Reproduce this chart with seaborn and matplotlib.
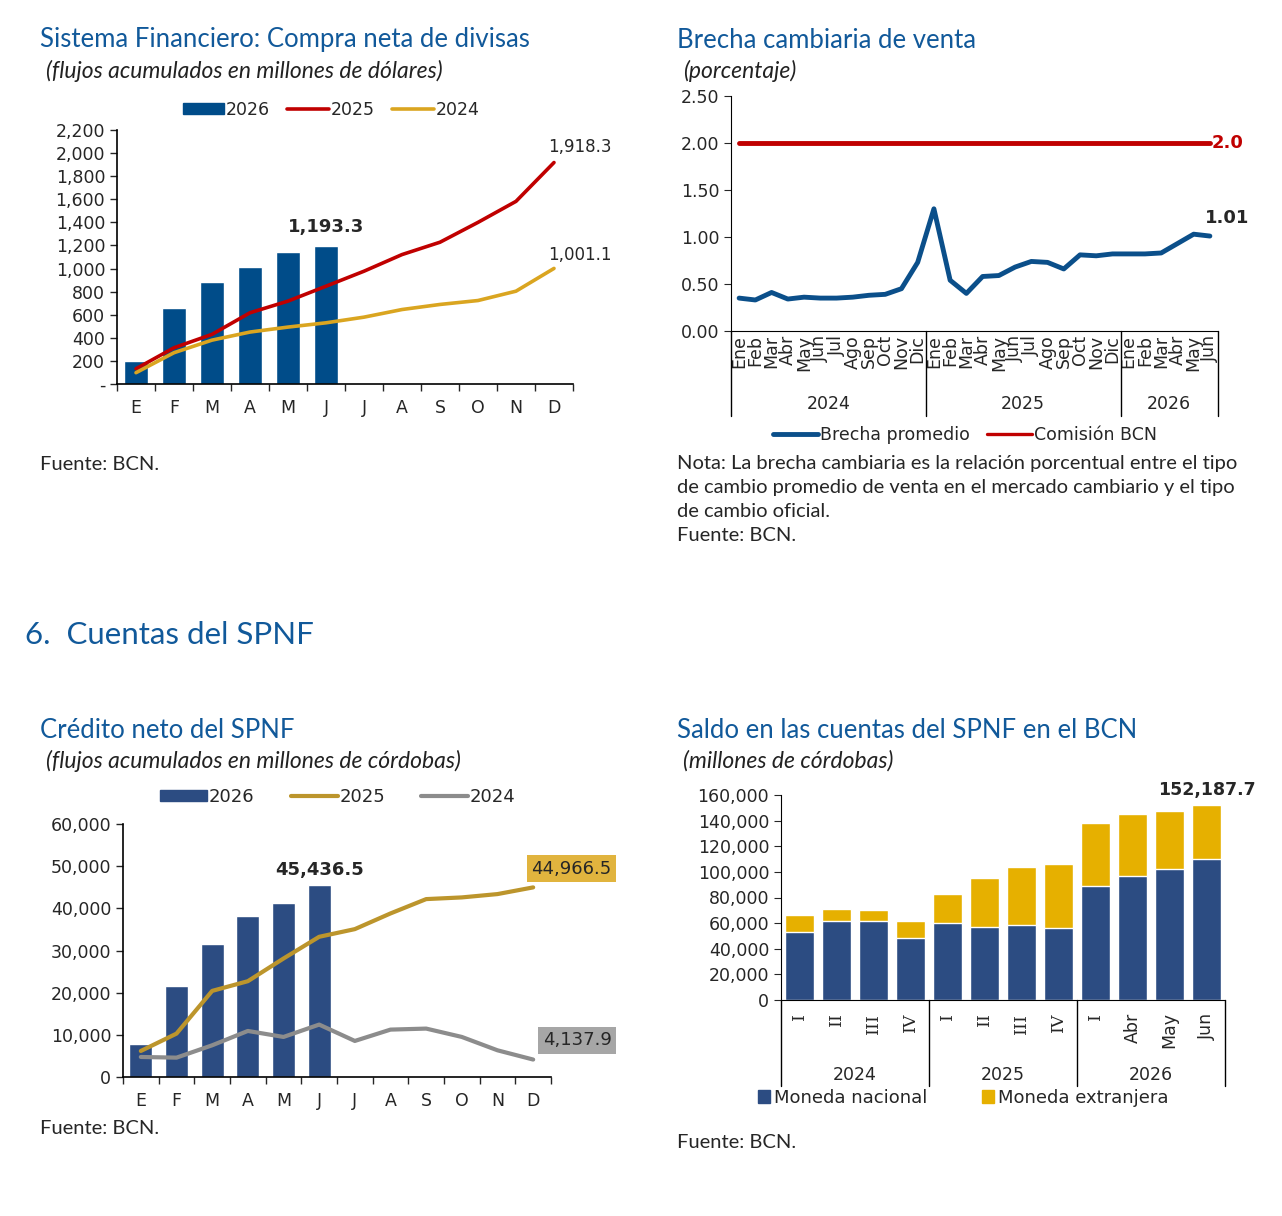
import numpy as np
import seaborn as sns
import matplotlib.pyplot as plt
from matplotlib.lines import Line2D
from matplotlib.patches import Patch

# ---- data ----
meses = ["E", "F", "M", "A", "M", "J", "J", "A", "S", "O", "N", "D"]

# Sistema financiero: compra neta de divisas (millones US$)
divisas_2026 = [196, 660, 882, 1017, 1144, 1193.3]
divisas_2025 = [132, 314, 430, 617, 718, 847, 977, 1121, 1228, 1400, 1582, 1918.3]
divisas_2024 = [98, 271, 380, 450, 493, 530, 579, 645, 689, 723, 804, 1001.1]

# Brecha cambiaria de venta (porcentaje), Ene-2024 a Jun-2026
meses_brecha = ["Ene", "Feb", "Mar", "Abr", "May", "Jun", "Jul", "Ago", "Sep", "Oct", "Nov", "Dic"] * 2 + \
               ["Ene", "Feb", "Mar", "Abr", "May", "Jun"]
brecha = [0.35, 0.33, 0.41, 0.34, 0.36, 0.35, 0.35, 0.36, 0.38, 0.39, 0.45, 0.73,
          1.30, 0.54, 0.40, 0.58, 0.59, 0.68, 0.74, 0.73, 0.66, 0.81, 0.80, 0.82,
          0.82, 0.82, 0.83, 0.93, 1.03, 1.01]
comision = [2.0] * 30

# Credito neto del SPNF (millones C$)
credito_2026 = [7757, 21610, 31425, 38150, 41160, 45436.5]
credito_2025 = [6174, 10290, 20420, 22720, 28100, 33250, 35070, 38790, 42190, 42590, 43380, 44966.5]
credito_2024 = [4750, 4590, 7520, 10920, 9500, 12430, 8550, 11240, 11480, 9500, 6330, 4137.9]

# Saldo en las cuentas del SPNF en el BCN (millones C$)
saldo_labels = ["I", "II", "III", "IV", "I", "II", "III", "IV", "I", "Abr", "May", "Jun"]
moneda_nacional = [53250, 61820, 61820, 48310, 59740, 56880, 58700, 56360, 89090, 96880, 102600, 110130]
moneda_extranjera = [12720, 9080, 8050, 13250, 22860, 38440, 45200, 50130, 49090, 48060, 45190, 42057.7]

# ---- style ----
sns.set_style("ticks")
plt.rcParams["font.family"] = ["DejaVu Sans"]
TITLE_FONT = ["Lato", "DejaVu Sans"]
TITLE_COLOR = "#11599A"
TICK_FS = 12.5

W, H = 1282, 1216
fig = plt.figure(figsize=(W / 100, H / 100), dpi=100)


def box(x0, y0, x1, y1):
    return [x0 / W, 1 - y1 / H, (x1 - x0) / W, (y1 - y0) / H]


def fx(x):
    return x / W


def fy(y):
    return 1 - y / H


def heading(x, y, title, sub):
    fig.text(fx(x), fy(y), title, family=TITLE_FONT, fontsize=18.5, color=TITLE_COLOR, va="center")
    if sub:
        fig.text(fx(x + 6), fy(y + 31), sub, family=TITLE_FONT, fontsize=16.5, style="italic",
                 color="#222222", va="center")


def excel_xaxis(ax, n):
    ax.set_xlim(-0.5, n - 0.5)
    ax.set_xticks(range(n))
    ax.set_xticks(np.arange(-0.5, n, 1), minor=True)
    ax.tick_params(axis="x", which="major", length=0, pad=11, labelsize=TICK_FS)
    ax.tick_params(axis="x", which="minor", length=5, width=1, direction="out")
    ax.tick_params(axis="y", length=5, width=1, labelsize=TICK_FS)
    sns.despine(ax=ax)
    for s in ["left", "bottom"]:
        ax.spines[s].set_linewidth(1.2)
        ax.spines[s].set_color("black")


# ---- Panel 1: compra neta de divisas ----
heading(40, 40, "Sistema Financiero: Compra neta de divisas", "(flujos acumulados en millones de dólares)")
ax1 = fig.add_axes(box(117, 130, 573, 384))
x12 = np.arange(12)
sns.barplot(x=np.arange(6), y=divisas_2026, color="#004C89", width=0.65, native_scale=True,
            ax=ax1, saturation=1)
sns.lineplot(x=x12, y=divisas_2025, color="#C00000", linewidth=2.6, ax=ax1)
sns.lineplot(x=x12, y=divisas_2024, color="#DAA520", linewidth=2.6, ax=ax1)
excel_xaxis(ax1, 12)
ax1.set_xticklabels(meses)
ax1.set_ylim(0, 2200)
ax1.set_yticks(range(0, 2201, 200))
ax1.set_yticklabels(["-"] + [f"{v:,}" for v in range(200, 2201, 200)])
ax1.set_xlabel("")
ax1.set_ylabel("")
ax1.text(5, divisas_2026[-1] + 90, f"{divisas_2026[-1]:,.1f}", ha="center", va="bottom",
         fontsize=13, fontweight="bold")
ax1.text(10.85, divisas_2025[-1] + 55, f"{divisas_2025[-1]:,.1f}", ha="left", va="bottom",
         fontsize=12, clip_on=False)
ax1.text(10.85, divisas_2024[-1] + 35, f"{divisas_2024[-1]:,.1f}", ha="left", va="bottom",
         fontsize=12, clip_on=False)
fig.legend(handles=[Patch(color="#004C89"), Line2D([], [], color="#C00000", lw=2.6),
                    Line2D([], [], color="#DAA520", lw=2.6)],
           labels=["2026", "2025", "2024"], loc="center", bbox_to_anchor=(fx(331), fy(110)),
           ncol=3, frameon=False, fontsize=12.5, handlelength=2.4, handleheight=0.6,
           handletextpad=0.1, columnspacing=1.0)
fig.text(fx(40), fy(465), "Fuente: BCN.", family=TITLE_FONT, fontsize=14.5, va="center")

# ---- Panel 2: brecha cambiaria ----
heading(677, 40, "Brecha cambiaria de venta", "(porcentaje)")
ax2 = fig.add_axes(box(731, 96, 1218, 331))
x30 = np.arange(30)
sns.lineplot(x=x30, y=comision, color="#C00000", linewidth=3.5, ax=ax2)
sns.lineplot(x=x30, y=brecha, color="#0B4F8A", linewidth=3.5, ax=ax2)
ax2.set_xlim(-0.5, 29.5)
ax2.set_ylim(0, 2.5)
ax2.set_yticks(np.arange(0, 2.51, 0.5))
ax2.set_yticklabels([f"{v:.2f}" for v in np.arange(0, 2.51, 0.5)])
ax2.set_xticks(x30)
ax2.set_xticklabels(meses_brecha, rotation=90, fontsize=TICK_FS, va="top")
ax2.tick_params(axis="x", length=0, pad=3)
ax2.tick_params(axis="y", length=5, labelsize=TICK_FS)
ax2.set_xlabel("")
ax2.set_ylabel("")
sns.despine(ax=ax2)
ax2.spines["left"].set_color("black")
ax2.spines["bottom"].set_color("black")
tr2 = ax2.get_xaxis_transform()
for xs in [-0.5, 11.5, 23.5, 29.5]:
    ax2.plot([xs, xs], [0, -0.36], color="black", lw=1, transform=tr2, clip_on=False)
for xc, yr in [(5.5, "2024"), (17.5, "2025"), (26.5, "2026")]:
    ax2.text(xc, -0.31, yr, transform=tr2, ha="center", va="center", fontsize=TICK_FS)
ax2.text(28.7, brecha[-1] + 0.1, f"{brecha[-1]:.2f}", ha="left", va="bottom", fontsize=13,
         fontweight="bold", clip_on=False)
ax2.text(29.1, comision[-1], f"{comision[-1]:.1f}", ha="left", va="center", fontsize=13,
         fontweight="bold", color="#C00000", clip_on=False)
fig.legend(handles=[Line2D([], [], color="#0B4F8A", lw=3.5), Line2D([], [], color="#C00000", lw=2.4)],
           labels=["Brecha promedio", "Comisión BCN"], loc="center",
           bbox_to_anchor=(fx(965), fy(435)), ncol=2, frameon=False, fontsize=12.5,
           handlelength=2.6, handletextpad=0.1, columnspacing=1.0)
nota = ("Nota: La brecha cambiaria es la relación porcentual entre el tipo\n"
        "de cambio promedio de venta en el mercado cambiario y el tipo\n"
        "de cambio oficial.\n"
        "Fuente: BCN.")
fig.text(fx(677), fy(455), nota, family=TITLE_FONT, fontsize=14.5, va="top", linespacing=1.5)

# ---- Section heading ----
fig.text(fx(25), fy(635), "6.  Cuentas del SPNF", family=TITLE_FONT, fontsize=22.5,
         color=TITLE_COLOR, va="center")

# ---- Panel 3: credito neto del SPNF ----
heading(40, 730, "Crédito neto del SPNF", "(flujos acumulados en millones de córdobas)")
ax3 = fig.add_axes(box(123, 824, 551, 1077))
sns.barplot(x=np.arange(6), y=credito_2026, color="#2C4C82", width=0.65, native_scale=True,
            ax=ax3, saturation=1)
sns.lineplot(x=x12, y=credito_2025, color="#BC952C", linewidth=3, ax=ax3)
sns.lineplot(x=x12, y=credito_2024, color="#8C8C8C", linewidth=3, ax=ax3)
excel_xaxis(ax3, 12)
ax3.set_xticklabels(meses)
ax3.set_ylim(0, 60000)
ax3.set_yticks(range(0, 60001, 10000))
ax3.set_yticklabels([f"{v:,}" for v in range(0, 60001, 10000)])
ax3.set_xlabel("")
ax3.set_ylabel("")
ax3.text(5, credito_2026[-1] + 1500, f"{credito_2026[-1]:,.1f}", ha="center", va="bottom",
         fontsize=13, fontweight="bold")
ax3.text(13.2, credito_2025[-1] + 4400, f"{credito_2025[-1]:,.1f}", ha="right", va="center",
         fontsize=13, clip_on=False,
         bbox=dict(boxstyle="square,pad=0.25", fc="#E1B43E", ec="none"))
ax3.text(13.2, credito_2024[-1] + 4600, f"{credito_2024[-1]:,.1f}", ha="right", va="center",
         fontsize=13, clip_on=False,
         bbox=dict(boxstyle="square,pad=0.25", fc="#A6A6A6", ec="none"))
fig.legend(handles=[Patch(color="#2C4C82"), Line2D([], [], color="#BC952C", lw=3),
                    Line2D([], [], color="#8C8C8C", lw=3)],
           labels=["2026", "2025", "2024"], loc="center", bbox_to_anchor=(fx(338), fy(797)),
           ncol=3, frameon=False, fontsize=13, handlelength=2.6, handleheight=0.6,
           handletextpad=0.1, columnspacing=2.0)
fig.text(fx(40), fy(1129), "Fuente: BCN.", family=TITLE_FONT, fontsize=14.5, va="center")

# ---- Panel 4: saldo en las cuentas del SPNF ----
heading(677, 730, "Saldo en las cuentas del SPNF en el BCN", "(millones de córdobas)")
ax4 = fig.add_axes(box(781, 795, 1225, 1000))
saldo_total = [a + b for a, b in zip(moneda_nacional, moneda_extranjera)]
sns.barplot(x=np.arange(12), y=saldo_total, color="#E6B000", width=0.8, native_scale=True,
            ax=ax4, saturation=1)
sns.barplot(x=np.arange(12), y=moneda_nacional, color="#2C4C82", width=0.8, native_scale=True,
            ax=ax4, saturation=1)
ax4.set_xlim(-0.5, 11.5)
ax4.set_ylim(0, 160000)
ax4.set_yticks(range(0, 160001, 20000))
ax4.set_yticklabels([f"{v:,}" for v in range(0, 160001, 20000)])
ax4.set_xticks(range(12))
ax4.set_xticklabels(saldo_labels, rotation=90, va="top", fontsize=TICK_FS)
for lab in ax4.get_xticklabels():
    if lab.get_text() in ("I", "II", "III", "IV"):
        lab.set_family(["DejaVu Serif"])
ax4.tick_params(axis="x", length=0, pad=9)
ax4.tick_params(axis="y", length=5, labelsize=TICK_FS)
ax4.set_xlabel("")
ax4.set_ylabel("")
sns.despine(ax=ax4)
ax4.spines["left"].set_color("black")
ax4.spines["bottom"].set_color("black")
tr4 = ax4.get_xaxis_transform()
for xs in [-0.5, 3.5, 7.5, 11.5]:
    ax4.plot([xs, xs], [0, -0.42], color="black", lw=1, transform=tr4, clip_on=False)
for xc, yr in [(1.5, "2024"), (5.5, "2025"), (9.5, "2026")]:
    ax4.text(xc, -0.366, yr, transform=tr4, ha="center", va="center", fontsize=TICK_FS)
ax4.text(11, saldo_total[-1] + 4500, f"{saldo_total[-1]:,.1f}", ha="center", va="bottom",
         fontsize=12.5, fontweight="bold", clip_on=False)
fig.legend(handles=[Patch(color="#2C4C82"), Patch(color="#E6B000")],
           labels=["Moneda nacional", "Moneda extranjera"], loc="center",
           bbox_to_anchor=(fx(963), fy(1098)), ncol=2, frameon=False, fontsize=13,
           handlelength=0.7, handleheight=0.7, handletextpad=0.2, columnspacing=3.0)
fig.text(fx(677), fy(1142), "Fuente: BCN.", family=TITLE_FONT, fontsize=14.5, va="center")

fig.savefig("out.png", dpi=100, facecolor="white")
